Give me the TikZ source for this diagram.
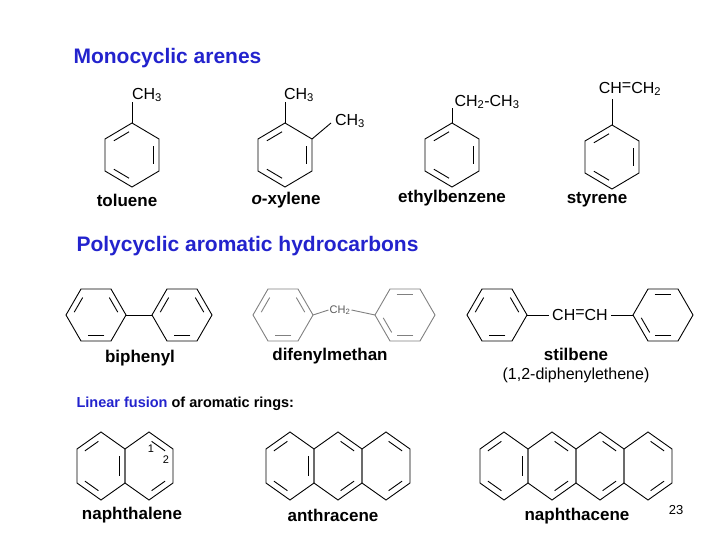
\documentclass[tikz,border=0pt]{standalone}
\usepackage{fontspec}
\setmainfont{Liberation Sans}
\usetikzlibrary{calc}
\definecolor{titleblue}{RGB}{35,35,205}
\tikzset{
heading/.style={anchor=west,font=\fontsize{21}{24}\selectfont\bfseries,text=titleblue},
molname/.style={font=\fontsize{17}{20}\selectfont\bfseries},
chemtext/.style={font=\fontsize{16}{19}\selectfont},
smalltext/.style={font=\fontsize{11}{13}\selectfont,inner sep=1pt},
bond/.style={line width=0.9pt}
}
% ring: center, angle offset, half width, vertex radius, double edges
\newcommand\hexring[5]{%
  \begin{scope}[shift={#1},xscale={#3/cos(#2==0?0:30)},yscale=#4]
    \draw[bond] (#2:1) -- (#2+60:1) -- (#2+120:1) -- (#2+180:1)
      -- (#2+240:1) -- (#2+300:1) -- cycle;
    \foreach \e in {#5}
      \draw[bond] ($(#2+\e*60:0.78)!0.14!(#2+\e*60+60:0.78)$)
        -- ($(#2+\e*60+60:0.78)!0.14!(#2+\e*60:0.78)$);
  \end{scope}}
\begin{document}
\begin{tikzpicture}[x=1pt,y=-1pt]
  \useasboundingbox (0,0) rectangle (728,546);

  \node[heading] (mono) at (70,58) {Monocyclic arenes};
  \node[heading] (poly) at (73,246) {Polycyclic aromatic hydrocarbons};

  % monocyclic
  \hexring{(132,155)}{30}{27}{32}{1,3,5}
  \draw[bond] (132,123) -- (132,102);
  \node[chemtext] (tolCH) at (147,95) {CH\textsubscript{3}};
  \hexring{(285,155)}{30}{27}{32}{1,3,5}
  \draw[bond] (285,123) -- (285,102);
  \draw[bond] (312,139) -- (331,123);
  \node[chemtext] (xylCHa) at (299,95) {CH\textsubscript{3}};
  \node[chemtext] (xylCHb) at (350,121) {CH\textsubscript{3}};
  \hexring{(452,155)}{30}{27}{32}{1,3,5}
  \draw[bond] (452,123) -- (452,108);
  \node[chemtext] (ethCH) at (487,102) {CH\textsubscript{2}-CH\textsubscript{3}};
  \hexring{(612,157)}{30}{27}{32}{1,3,5}
  \draw[bond] (612,125) -- (612,99);
  \node[chemtext] (styCH) at (630,89) {CH{\raisebox{0.3ex}{=}}CH\textsubscript{2}};

  \node[molname] (toluene) at (127,200) {toluene};
  \node[molname] (xylene) at (286,200) {\textit{o}-xylene};
  \node[molname] (ethyl) at (452,198) {ethylbenzene};
  \node[molname] (styrene) at (597,200) {styrene};

  % polycyclic
  \hexring{(96,315)}{0}{30}{30}{1,3,5}
  \hexring{(182,315)}{0}{30}{30}{1,3,5}
  \draw[bond] (126,315) -- (152,315);
  \begin{scope}[draw=gray]
    \hexring{(283,315)}{0}{30}{30}{1,3,5}
    \hexring{(405,315)}{0}{30}{30}{1,2,4}
    \node[smalltext,text=gray!70!black] (methCH) at (340,310) {CH\textsubscript{2}};
    \draw[bond,gray] (313,315) -- (methCH.west);
    \draw[bond,gray] (methCH.east) -- (375,315);
  \end{scope}
  \hexring{(497,315)}{0}{30}{30}{1,3,5}
  \hexring{(663,315)}{0}{30}{30}{1,2,4}
  \node[chemtext] (stilCH) at (580,315) {CH{\raisebox{0.3ex}{=}}CH};
  \draw[bond] (527,315) -- (stilCH.west);
  \draw[bond] (stilCH.east) -- (633,315);

  \node[molname] (biphenyl) at (140,358) {biphenyl};
  \node[molname] (difenyl) at (330,356) {difenylmethan};
  \node[molname] (stilbene) at (576,354) {stilbene};
  \node[chemtext] (stilsub) at (576,375) {(1,2-diphenylethene)};

  \node[anchor=west,font=\fontsize{14.5}{17}\selectfont\bfseries] (fusion) at (73,404)
    {\textcolor{titleblue}{Linear fusion} of aromatic rings:};

  % fused rings
  \hexring{(101,466)}{30}{24}{34}{1,3,5}
  \hexring{(149,466)}{30}{24}{34}{0,4}
  \node[smalltext] (pos1) at (151,449) {1};
  \node[smalltext] (pos2) at (166,460) {2};
  \hexring{(290,466)}{30}{24}{34}{1,3,5}
  \hexring{(338,466)}{30}{24}{34}{0,4}
  \hexring{(386,466)}{30}{24}{34}{0,4}
  \hexring{(504,466)}{30}{24}{34}{1,3,5}
  \hexring{(552,466)}{30}{24}{34}{0,4}
  \hexring{(600,466)}{30}{24}{34}{0,4}
  \hexring{(648,466)}{30}{24}{34}{0,4}

  \node[molname] (naphthalene) at (132,515) {naphthalene};
  \node[molname] (anthracene) at (333,515) {anthracene};
  \node[molname] (naphthacene) at (577,516) {naphthacene};
  \node[font=\fontsize{13}{15}\selectfont] (page) at (676,510) {23};
\end{tikzpicture}
\end{document}
